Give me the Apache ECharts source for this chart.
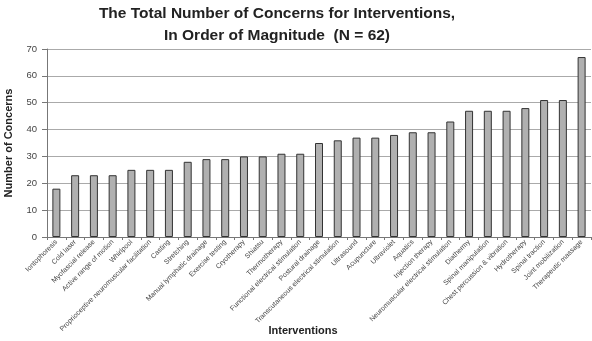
<!DOCTYPE html>
<html><head><meta charset="utf-8">
<script src="https://cdn.jsdelivr.net/npm/echarts@6/dist/echarts.min.js"></script>
<style>html,body{margin:0;padding:0;background:#fff}#c{width:592px;height:341px}</style>
</head><body><div id="c"></div>
<script>
var categories = ["Iontophoresis","Cold laser","Myofascial release","Active range of motion","Whirlpool","Proprioceptive neuromuscular facilitation","Casting","Stretching","Manual lymphatic drainage","Exercise testing","Cryotherapy","Shiatsu","Thermotherapy","Functional electrical stimulation","Postural drainage","Transcutaneous electrical stimulation","Ultrasound","Acupuncture","Ultraviolet","Aquatics","Injection therapy","Neuromuscular electrical stimulation","Diathermy","Spinal manipulation","Chest percussion & vibration","Hydrotherapy","Spinal traction","Joint mobilization","Therapeutic massage"];
var concerns = [18,23,23,23,25,25,25,28,29,29,30,30,31,31,35,36,37,37,38,39,39,43,47,47,47,48,51,51,67];
var yTicks = [0,10,20,30,40,50,60,70];
var chart = echarts.init(document.getElementById('c'), null, {renderer:'canvas'});
chart.setOption({
  animation:false,
  textStyle:{fontFamily:'Liberation Sans, Arial, sans-serif'},
  title:{text:'The Total Number of Concerns for Interventions,\nIn Order of Magnitude  (N = 62)',left:272,top:-2,textAlign:'center',
    textStyle:{fontSize:15.5,fontWeight:'bold',color:'#222',lineHeight:22,fontFamily:'Liberation Sans, Arial, sans-serif'}},
  grid:{left:47,right:1,top:49,bottom:104,containLabel:false,outerBoundsMode:'none'},
  xAxis:{type:'category',data:categories,name:'Interventions',nameLocation:'middle',nameGap:88,nameMoveOverlap:false,
    nameTextStyle:{fontSize:11,fontWeight:'bold',color:'#222',padding:[0,32,0,0]},
    axisLine:{lineStyle:{color:'#777'}},axisTick:{show:true,length:3,lineStyle:{color:'#777'}},
    axisLabel:{rotate:45,fontSize:7,color:'#444',margin:4,interval:0}},
  yAxis:{type:'value',min:0,max:70,interval:10,name:'Number of Concerns',nameLocation:'middle',nameGap:33,nameMoveOverlap:false,
    nameTextStyle:{fontSize:11,fontWeight:'bold',color:'#222'},
    axisLine:{show:true,lineStyle:{color:'#777'}},axisTick:{show:true,length:5,lineStyle:{color:'#777'}},
    axisLabel:{fontSize:9.5,color:'#444',margin:10,formatter:function(v){return yTicks.indexOf(v)>=0?String(v):'';}},
    splitLine:{lineStyle:{color:'#aaa'}}},
  series:[{type:'bar',data:concerns,barWidth:8,itemStyle:{color:'#b0b0b0',borderColor:'#333',borderWidth:1}}]
});
</script></body></html>
